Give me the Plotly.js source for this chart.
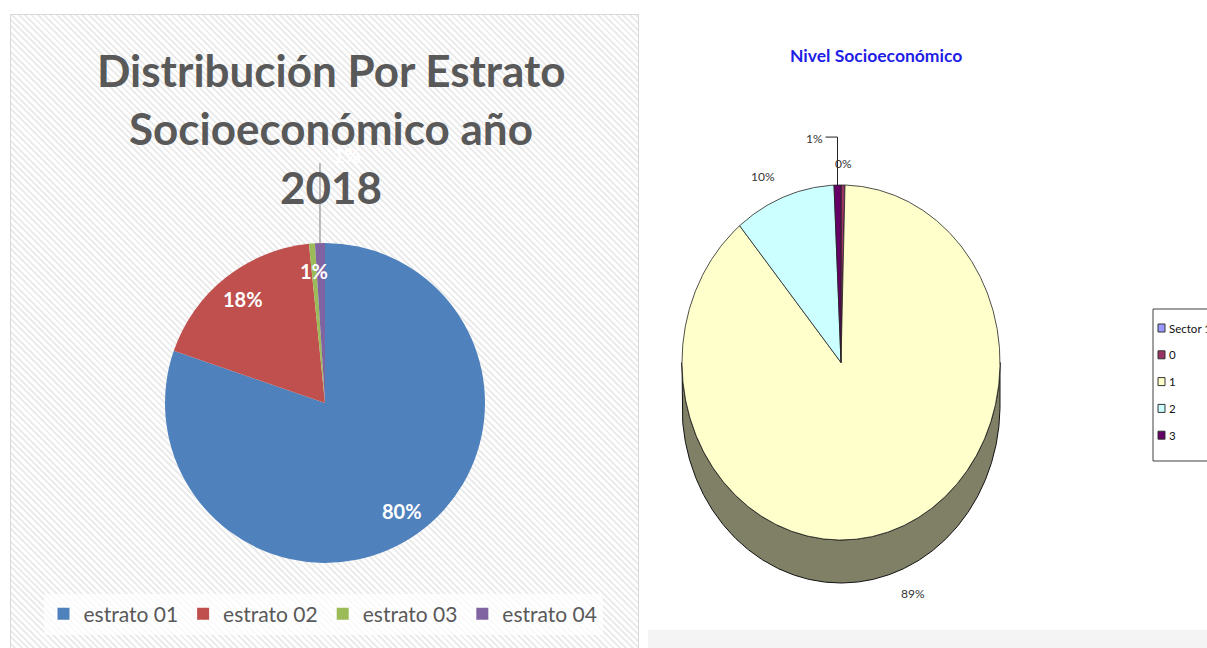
<!DOCTYPE html>
<html>
<head>
<meta charset="utf-8">
<script src="https://cdn.plot.ly/plotly-3.0.1.min.js"></script>
<style>
html,body{margin:0;padding:0;background:#ffffff;width:1207px;height:648px;overflow:hidden}
#panel{position:absolute;left:10px;top:14px;width:627px;height:640px;border:1px solid #d9d9d9;
  background:repeating-linear-gradient(45deg,#ffffff 0px,#ffffff 2.5px,#ececec 2.5px,#ececec 4.5px);}
#band{position:absolute;left:648px;top:630px;width:559px;height:18px;background:#f4f4f4}
#chart{position:absolute;left:0;top:0;width:1207px;height:648px}
</style>
</head>
<body>
<div id="panel"></div>
<div id="band"></div>
<div id="chart"></div>
<script>
// ---------- DATA ----------
const leftTitleLines = ['Distribución Por Estrato', 'Socioeconómico año', '2018'];
const leftCategories = ['estrato 01', 'estrato 02', 'estrato 03', 'estrato 04'];
const leftValues = [80.3, 18.1, 0.6, 1.0];

const rightTitle = 'Nivel Socioeconómico';
const rightCategories = ['Sector 1', '0', '1', '2', '3'];
const rightValues = [0, 0.4, 88.6, 10.3, 0.7];

// ---------- STYLE / GEOMETRY ----------
const W = 1207, H = 648;
const fx = x => x / W, fy = y => 1 - y / H;
const leftColors = ['#4f81bd', '#c0504d', '#9bbb59', '#8064a2'];
const rightColors = ['#9999ff', '#993366', '#ffffcc', '#ccffff', '#660066'];
const L = {cx: 325, cy: 403, r: 160};
const R = {cx: 841, cy: 362.5, rx: 159, ry: 177.5, depth: 43};
const FONT = 'Lato, sans-serif';

const sum = a => a.reduce((s, v) => s + v, 0);
const pct = (v, t) => Math.round(v / t * 100) + '%';

const traces = [];
const annotations = [];
const shapes = [];
const note = (x, y, text, font, xanchor) => annotations.push({
  xref: 'paper', yref: 'paper', x: fx(x), y: fy(y), text, showarrow: false,
  xanchor: xanchor || 'center', yanchor: 'middle', font
});

// ---------- LEFT PIE ----------
traces.push({
  type: 'pie',
  values: leftValues,
  labels: leftCategories,
  sort: false,
  direction: 'clockwise',
  rotation: 0,
  marker: {colors: leftColors, line: {width: 0}},
  textinfo: 'none',
  hoverinfo: 'label+percent',
  domain: {x: [fx(L.cx - L.r), fx(L.cx + L.r)], y: [fy(L.cy + L.r), fy(L.cy - L.r)]},
  showlegend: true
});

const tot1 = sum(leftValues);
let cum1 = 0;
const lblFont = {family: FONT, size: 20, color: '#ffffff'};
leftValues.forEach((v, i) => {
  const m = (cum1 + v / 2) / tot1 * 2 * Math.PI;
  cum1 += v;
  const s = Math.sin(m), c = Math.cos(m);
  if (i < 3) {
    note(L.cx + L.r * 0.83 * s, L.cy - L.r * 0.83 * c, '<b>' + pct(v, tot1) + '</b>', lblFont);
  } else {
    const ex = L.cx + L.r * s, ey = L.cy - L.r * c;
    const topY = L.cy - L.r * 1.5;
    shapes.push({type: 'line', xref: 'paper', yref: 'paper',
      x0: fx(ex), y0: fy(ey), x1: fx(ex), y1: fy(topY),
      line: {color: '#a6a6a6', width: 1.5}});
    note(ex + 27, topY - 8, '<b>' + pct(v, tot1) + '</b>', lblFont);
  }
});

leftTitleLines.forEach((t, i) => {
  note(331, 70 + i * 58.5, '<b>' + t + '</b>', {family: FONT, size: 44, color: '#595959'});
});

// ---------- RIGHT 3D PIE (drawn as polygons) ----------
const tot2 = sum(rightValues);
const arcPts = (a0, a1, dy) => {
  const n = Math.max(2, Math.ceil(Math.abs(a1 - a0) / (Math.PI / 360)));
  const xs = [], ys = [];
  for (let k = 0; k <= n; k++) {
    const a = a0 + (a1 - a0) * k / n;
    xs.push(R.cx + R.rx * Math.sin(a));
    ys.push(R.cy - R.ry * Math.cos(a) + dy);
  }
  return [xs, ys];
};
const darken = hex => {
  const n = parseInt(hex.slice(1), 16);
  const r = (n >> 16) & 255, g = (n >> 8) & 255, b = n & 255;
  return 'rgb(' + Math.round(r * 0.5) + ',' + Math.round(g * 0.5) + ',' + Math.round(b * 0.5) + ')';
};

const slices = [];
let cum2 = 0;
rightValues.forEach((v, i) => {
  const a0 = cum2 / tot2 * 2 * Math.PI;
  cum2 += v;
  const a1 = cum2 / tot2 * 2 * Math.PI;
  slices.push({i, v, a0, a1});
});

// side walls (front half)
slices.forEach(s => {
  if (s.v <= 0) return;
  const a = Math.max(s.a0, Math.PI / 2), b = Math.min(s.a1, 3 * Math.PI / 2);
  if (b <= a) return;
  const [tx, ty] = arcPts(a, b, 0);
  const [bx, by] = arcPts(b, a, R.depth);
  traces.push({
    type: 'scatter', xaxis: 'x2', yaxis: 'y2', mode: 'lines',
    x: tx.concat(bx, [tx[0]]), y: ty.concat(by, [ty[0]]),
    fill: 'toself', fillcolor: darken(rightColors[s.i]),
    line: {color: '#111111', width: 1}, hoverinfo: 'skip', showlegend: false
  });
});
// top faces
slices.forEach(s => {
  if (s.v <= 0) return;
  const [tx, ty] = arcPts(s.a0, s.a1, 0);
  traces.push({
    type: 'scatter', xaxis: 'x2', yaxis: 'y2', mode: 'lines',
    x: [R.cx].concat(tx, [R.cx]), y: [R.cy].concat(ty, [R.cy]),
    fill: 'toself', fillcolor: rightColors[s.i],
    line: {color: '#222222', width: 0.8},
    name: rightCategories[s.i],
    text: pct(s.v, tot2), hoverinfo: 'name+text', showlegend: false
  });
});

// right labels
const smallFont = {family: FONT, size: 12, color: '#333333'};
slices.forEach(s => {
  if (s.v <= 0) return;
  const m = (s.a0 + s.a1) / 2;
  const sn = Math.sin(m), cs = Math.cos(m);
  const txt = pct(s.v, tot2);
  if (s.i === rightCategories.length - 1) {
    const ex = R.cx + R.rx * sn, ey = R.cy - R.ry * cs;
    const topY = R.cy - R.ry * 1.27;
    shapes.push({type: 'path', xref: 'paper', yref: 'paper',
      path: 'M' + fx(ex) + ',' + fy(ey) + ' L' + fx(ex) + ',' + fy(topY) + ' L' + fx(ex - 12) + ',' + fy(topY),
      line: {color: '#222222', width: 1}});
    note(ex - 13, topY + 1, txt, smallFont, 'right');
  } else {
    const k = 1.12;
    const dy = cs < 0 ? R.depth : 0;
    note(R.cx + R.rx * k * sn, R.cy - R.ry * k * cs + dy, txt, smallFont,
      sn > 0.1 ? 'left' : (sn < -0.1 ? 'right' : 'center'));
  }
});

note(876, 55, '<b>' + rightTitle + '</b>', {family: FONT, size: 17.5, color: '#1e1ee6'});

// right legend (Excel style box)
const lg = {x: 1153, y: 309, w: 70, h: 152, row: 26.8, first: 328};
shapes.push({type: 'rect', xref: 'paper', yref: 'paper',
  x0: fx(lg.x), x1: fx(lg.x + lg.w), y0: fy(lg.y), y1: fy(lg.y + lg.h),
  line: {color: '#404040', width: 1}, fillcolor: '#ffffff', layer: 'below'});
rightCategories.forEach((c, i) => {
  const yc = lg.first + i * lg.row;
  shapes.push({type: 'rect', xref: 'paper', yref: 'paper',
    x0: fx(lg.x + 5), x1: fx(lg.x + 12), y0: fy(yc - 4), y1: fy(yc + 4),
    line: {color: '#333333', width: 1}, fillcolor: rightColors[i]});
  note(lg.x + 14, yc, c, {family: FONT, size: 11.5, color: '#111111'}, 'left');
});

const pad = 4;
const layout = {
  width: W, height: H,
  margin: {l: 0, r: 0, t: 0, b: 0},
  paper_bgcolor: 'rgba(0,0,0,0)', plot_bgcolor: 'rgba(0,0,0,0)',
  showlegend: true,
  legend: {
    orientation: 'h', x: fx(323), xanchor: 'center', y: fy(614), yanchor: 'middle',
    bgcolor: 'rgba(255,255,255,0.75)', borderwidth: 0,
    font: {family: FONT, size: 21, color: '#595959'},
    traceorder: 'normal'
  },
  xaxis2: {domain: [fx(R.cx - R.rx - pad), fx(R.cx + R.rx + pad)],
    range: [R.cx - R.rx - pad, R.cx + R.rx + pad], visible: false, fixedrange: true, anchor: 'y2'},
  yaxis2: {domain: [fy(R.cy + R.ry + R.depth + pad), fy(R.cy - R.ry - pad)],
    range: [R.cy + R.ry + R.depth + pad, R.cy - R.ry - pad], visible: false, fixedrange: true, anchor: 'x2'},
  shapes, annotations
};

Plotly.newPlot('chart', traces, layout, {displayModeBar: false});
</script>
</body>
</html>
